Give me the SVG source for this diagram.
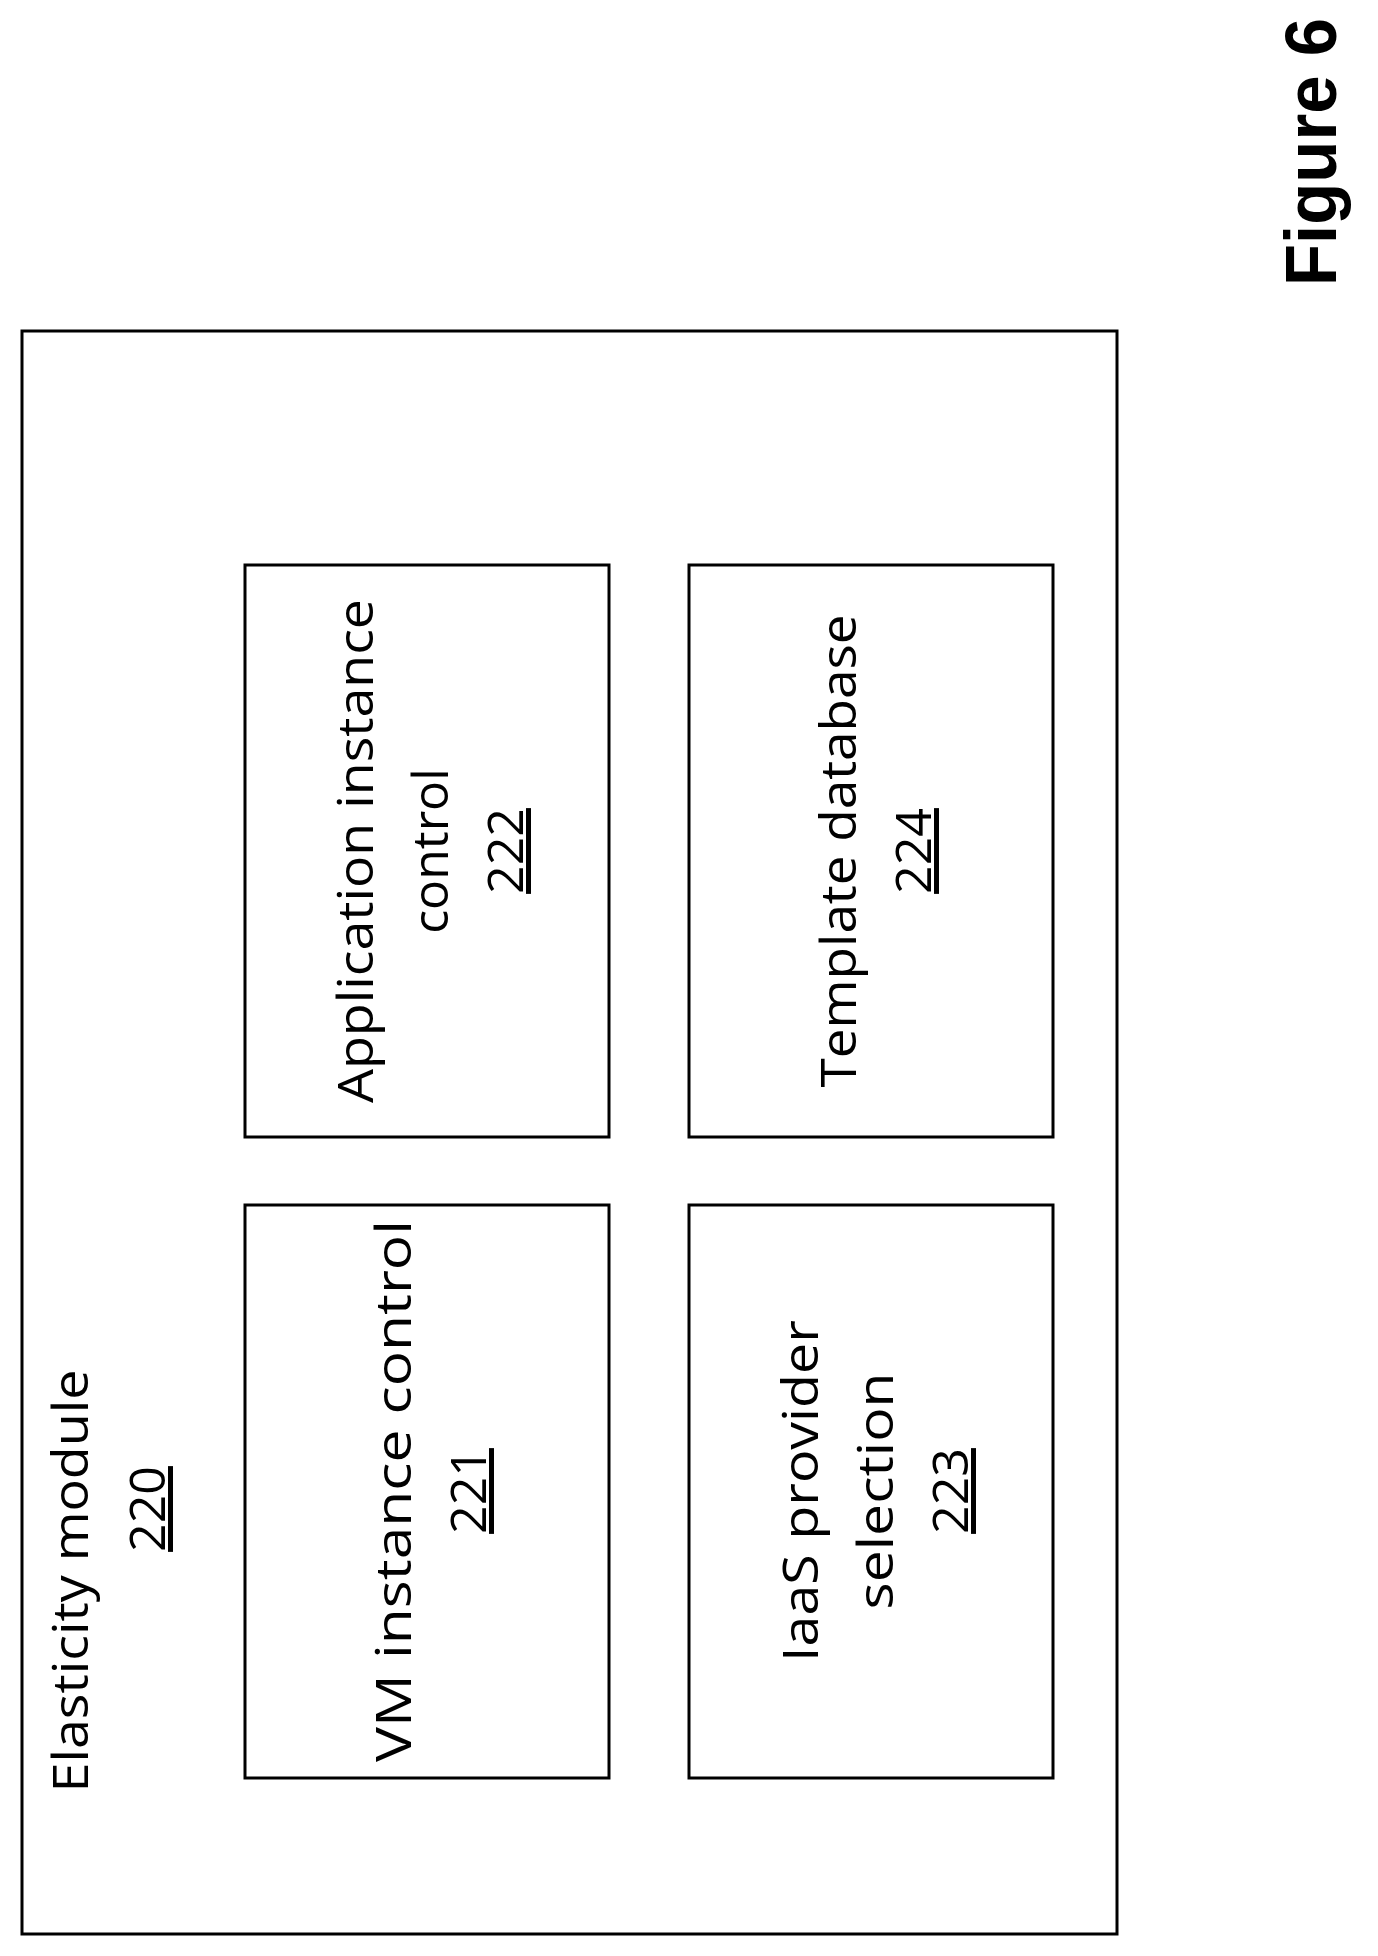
<svg xmlns="http://www.w3.org/2000/svg" width="1378" height="1956" viewBox="0 0 1378 1956">
<style>
.box{fill:none;stroke:#000;stroke-width:3}
.t{font-family:"Open Sans","Liberation Sans",sans-serif;font-size:50px;fill:#000;text-anchor:middle}
.n{text-decoration:underline}
.fig{font-family:"Liberation Sans",sans-serif;font-size:72px;font-weight:bold;fill:#000;text-anchor:middle}
</style>
<rect width="1378" height="1956" fill="#fff"/>
<g id="elasticity">
<rect class="box" x="22" y="331" width="1095" height="1603"/>
<text class="t" transform="translate(88,1581) rotate(-90)" textLength="423" lengthAdjust="spacingAndGlyphs">Elasticity module</text>
<text class="t n" transform="translate(165,1509) rotate(-90)">220</text>
</g>
<g id="n222">
<rect class="box" x="245" y="565" width="364" height="572"/>
<text class="t" transform="translate(373,851) rotate(-90)" textLength="504" lengthAdjust="spacingAndGlyphs">Application instance</text>
<text class="t" transform="translate(448,851) rotate(-90)">control</text>
<text class="t n" transform="translate(523,851) rotate(-90)">222</text>
</g>
<g id="n221">
<rect class="box" x="245" y="1205" width="364" height="573"/>
<text class="t" transform="translate(411,1491) rotate(-90)" textLength="542" lengthAdjust="spacingAndGlyphs">VM instance control</text>
<text class="t n" transform="translate(486,1491) rotate(-90)">221</text>
</g>
<g id="n224">
<rect class="box" x="689" y="565" width="364" height="572"/>
<text class="t" transform="translate(856,851) rotate(-90)" textLength="473" lengthAdjust="spacingAndGlyphs">Template database</text>
<text class="t n" transform="translate(931,851) rotate(-90)">224</text>
</g>
<g id="n223">
<rect class="box" x="689" y="1205" width="364" height="573"/>
<text class="t" transform="translate(818,1491) rotate(-90)" textLength="342" lengthAdjust="spacingAndGlyphs">IaaS provider</text>
<text class="t" transform="translate(893,1491) rotate(-90)" textLength="237" lengthAdjust="spacingAndGlyphs">selection</text>
<text class="t n" transform="translate(968,1491) rotate(-90)">223</text>
</g>
<g id="connectors"></g>
<text class="fig" transform="translate(1336,152) rotate(-90)" textLength="268" lengthAdjust="spacingAndGlyphs">Figure 6</text>
</svg>
